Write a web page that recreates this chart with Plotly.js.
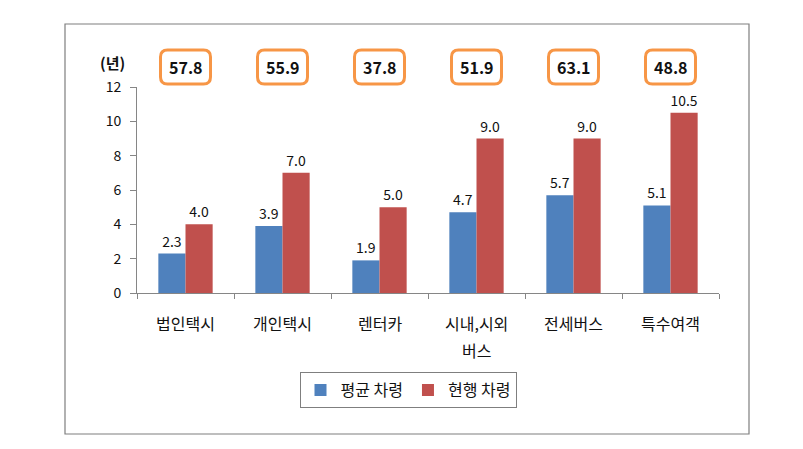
<!DOCTYPE html>
<html><head><meta charset="utf-8">
<script src="https://cdn.plot.ly/plotly-3.0.1.min.js"></script>
<style>html,body{margin:0;padding:0;background:#fff;}</style>
</head><body>
<div id="chart" style="width:803px;height:449px;"></div>
<script>
const categories = ['법인택시', '개인택시', '렌터카', '시내,시외<br>버스', '전세버스', '특수여객'];
const avgAge = [2.3, 3.9, 1.9, 4.7, 5.7, 5.1];
const curAge = [4.0, 7.0, 5.0, 9.0, 9.0, 10.5];
const boxValues = ['57.8', '55.9', '37.8', '51.9', '63.1', '48.8'];
const seriesNames = ['평균 차령', '현행 차령'];
const yTicks = [0, 2, 4, 6, 8, 10, 12];

const FONT = '"Malgun Gothic","Noto Sans CJK KR",sans-serif';
const plotW = 582, plotH = 206;

const traces = [
  {type: 'bar', name: seriesNames[0], x: categories, y: avgAge,
   marker: {color: '#4F81BD'}, text: avgAge.map(v => v.toFixed(1)),
   textposition: 'outside', cliponaxis: false,
   textfont: {size: 14, color: '#111', family: FONT}},
  {type: 'bar', name: seriesNames[1], x: categories, y: curAge,
   marker: {color: '#C0504D'}, text: curAge.map(v => v.toFixed(1)),
   textposition: 'outside', cliponaxis: false,
   textfont: {size: 14, color: '#111', family: FONT}}
];

const shapes = [{
  type: 'rect', xref: 'paper', yref: 'paper',
  x0: (65 - 137) / plotW, x1: (749 - 137) / plotW,
  y0: -(434 - 293) / plotH, y1: (293 - 24) / plotH,
  line: {color: '#7f7f7f', width: 1.2}, layer: 'below'
}];
const annotations = [{
  xref: 'paper', yref: 'paper', x: (112 - 137) / plotW, y: (293 - 62) / plotH,
  text: '<b>(년)</b>', showarrow: false, font: {size: 15, family: FONT, color: '#111'},
  xanchor: 'center', yanchor: 'middle'
}];
// category labels (drawn at the category positions, with the reference's wide line spacing)
categories.forEach(c => {
  c.split('<br>').forEach((line, k) => {
    annotations.push({xref: 'x', yref: 'paper', x: c, y: -(323 + 27 * k - 293) / plotH,
      text: line, showarrow: false, font: {size: 16, family: FONT, color: '#111'},
      xanchor: 'center', yanchor: 'middle'});
  });
});
const bw = 50 / plotW, bh = 34 / plotH, rx = 7 / plotW, ry = 7 / plotH;
const cy = (293 - 67) / plotH;
boxValues.forEach((v, i) => {
  const cx = (i + 0.5) / categories.length;
  const x0 = cx - bw / 2, x1 = cx + bw / 2, y0 = cy - bh / 2, y1 = cy + bh / 2;
  const p = `M ${x0 + rx} ${y1} L ${x1 - rx} ${y1} Q ${x1} ${y1} ${x1} ${y1 - ry} ` +
            `L ${x1} ${y0 + ry} Q ${x1} ${y0} ${x1 - rx} ${y0} L ${x0 + rx} ${y0} ` +
            `Q ${x0} ${y0} ${x0} ${y0 + ry} L ${x0} ${y1 - ry} Q ${x0} ${y1} ${x0 + rx} ${y1} Z`;
  shapes.push({type: 'path', xref: 'paper', yref: 'paper', path: p,
    line: {color: '#F79646', width: 3}, fillcolor: '#fff'});
  annotations.push({xref: 'paper', yref: 'paper', x: cx, y: cy, text: '<b>' + v + '</b>',
    showarrow: false, font: {size: 16, family: FONT, color: '#111'},
    xanchor: 'center', yanchor: 'middle'});
});

const layout = {
  width: 803, height: 449,
  margin: {l: 137, r: 84, t: 87, b: 156},
  paper_bgcolor: '#fff', plot_bgcolor: '#fff',
  barmode: 'group', bargap: 0.44, bargroupgap: 0,
  showlegend: true,
  legend: {orientation: 'h', xref: 'paper', yref: 'paper',
    x: (408 - 137) / plotW, y: -(390 - 293) / plotH, xanchor: 'center', yanchor: 'middle',
    bordercolor: '#7f7f7f', borderwidth: 1, bgcolor: '#fff',
    font: {size: 16, family: FONT, color: '#111'}, itemwidth: 30, traceorder: 'normal'},
  xaxis: {type: 'category', showline: true, linecolor: '#868686', linewidth: 1,
    ticks: 'outside', tickson: 'boundaries', ticklen: 5, tickcolor: '#868686',
    showgrid: false, showticklabels: false},
  yaxis: {range: [0, 12], tickvals: yTicks, ticktext: yTicks.map(String),
    showline: true, linecolor: '#868686', linewidth: 1, ticks: 'outside', ticklen: 6,
    tickcolor: '#868686', showgrid: false, zeroline: false,
    tickfont: {size: 14, family: FONT, color: '#111'}, ticklabelstandoff: 6},
  shapes: shapes, annotations: annotations
};

Plotly.newPlot('chart', traces, layout, {displayModeBar: false, staticPlot: true});
</script>
</body></html>
